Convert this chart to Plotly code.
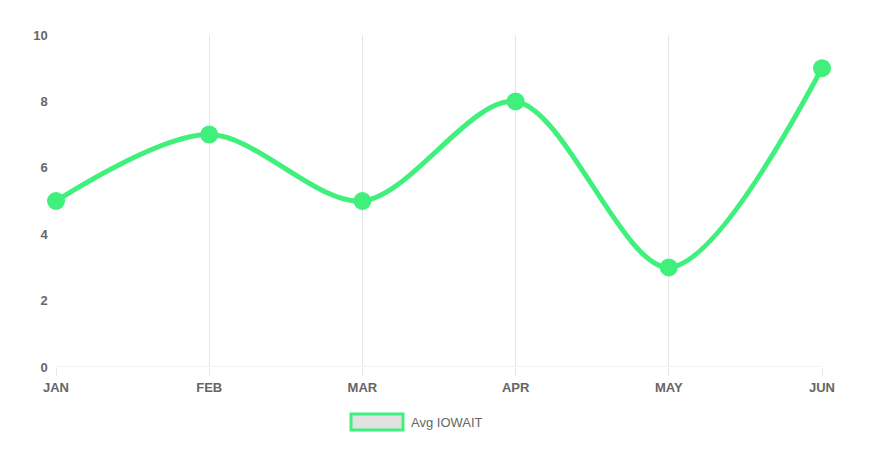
import plotly.graph_objects as go

months = ['JAN', 'FEB', 'MAR', 'APR', 'MAY', 'JUN']
iowait = [5, 7, 5, 8, 3, 9]
green = '#3ff07c'

fig = go.Figure()
fig.add_trace(go.Scatter(
    x=list(range(len(months))), y=iowait, mode='lines+markers', name='Avg IOWAIT',
    line=dict(color=green, width=5, shape='spline', smoothing=0.9),
    marker=dict(color=green, size=18), showlegend=False, cliponaxis=False))

fig.update_layout(
    width=871, height=462, plot_bgcolor='white', paper_bgcolor='white',
    margin=dict(l=48, r=57, t=27, b=103),
    font=dict(family='Liberation Sans, Arial', size=13, color='#666'),
    xaxis=dict(range=[0, 5], tickvals=list(range(6)), ticktext=months,
               showgrid=True, gridcolor='#e6e6e6', zeroline=False,
               ticks='outside', ticklen=8, tickcolor='#e6e6e6',
               tickfont=dict(size=13, weight='bold'), showline=False),
    yaxis=dict(range=[0, 10], dtick=2, showgrid=False, zeroline=False,
               showline=False, tickfont=dict(size=13, weight='bold'),
               ticksuffix='  ', automargin=False),
)
fig.add_shape(type='line', xref='paper', yref='y', x0=0, x1=1, y0=0, y1=0,
              line=dict(color='#e6e6e6', width=1))
fig.add_shape(type='rect', xref='paper', yref='paper',
              x0=(351 - 56) / 766, x1=(403 - 56) / 766,
              y0=-(414 - 367) / 332, y1=-(430 - 367) / 332,
              fillcolor='#e2e2e2', line=dict(color=green, width=3))
fig.add_annotation(text='Avg IOWAIT', xref='paper', yref='paper',
                   x=(409 - 56) / 766, y=-(422 - 367) / 332,
                   xanchor='left', yanchor='middle', showarrow=False,
                   font=dict(size=13, color='#666'))

fig.write_html('out.html')
